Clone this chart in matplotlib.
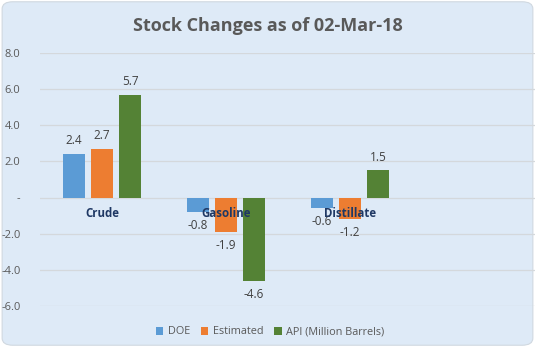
"""Stock changes grouped bar chart (DOE / Estimated / API)."""

import matplotlib

matplotlib.use("Agg")

import matplotlib.pyplot as plt
import numpy as np
from matplotlib.patches import FancyBboxPatch

plt.rcParams["font.family"] = ["Open Sans", "DejaVu Sans"]

categories = ["Crude", "Gasoline", "Distillate", ""]
doe = [2.4, -0.8, -0.6, np.nan]
estimated = [2.7, -1.9, -1.2, np.nan]
api = [5.7, -4.6, 1.5, np.nan]
series_names = ["DOE", "Estimated", "API (Million Barrels)"]
y_ticks = [-6, -4, -2, 0, 2, 4, 6, 8]
y_ticklabels = ["-6.0", "-4.0", "-2.0", "-", "2.0", "4.0", "6.0", "8.0"]

COLORS = ["#5B9BD5", "#ED7D31", "#548235"]
BG = "#DEEAF7"
TEXT = "#595959"

fig = plt.figure(figsize=(5.35, 3.53), dpi=100, facecolor="white")
panel = FancyBboxPatch(
    (0.004, 0.022), 0.992, 0.973,
    boxstyle="round,pad=0,rounding_size=0.02",
    transform=fig.transFigure, facecolor=BG, edgecolor="#D0D8E0",
    linewidth=0.8, zorder=-10,
)
fig.patches.append(panel)

ax = fig.add_axes([40 / 535, 47 / 353, 496 / 535, 253 / 353])
ax.set_facecolor("none")

x = np.arange(len(categories))
width = 0.18
step = 0.226
for i, (vals, name) in enumerate(zip([doe, estimated, api], series_names)):
    pos = x + (i - 1) * step
    ax.bar(pos, vals, width, color=COLORS[i], label=name, zorder=3)
    for p, v in zip(pos, vals):
        if np.isnan(v):
            continue
        off = 5 if v >= 0 else -5
        ax.annotate(f"{v:.1f}", (p, v), xytext=(0, off), textcoords="offset points",
                    ha="center", va="bottom" if v >= 0 else "top",
                    fontsize=8.5, color="#404040")

ax.set_xlim(-0.5, len(categories) - 0.5)
ax.set_ylim(-6, 8)
ax.set_yticks(y_ticks)
ax.set_yticklabels(y_ticklabels, fontsize=8, color=TEXT)
ax.tick_params(axis="y", length=0, pad=14)
ax.set_xticks([])
ax.grid(axis="y", color="#D4D8DC", linewidth=0.9, zorder=0)
for s in ax.spines.values():
    s.set_visible(False)

for xi, cat in zip(x, categories):
    ax.annotate(cat, (xi, 0), xytext=(0, -11.5), textcoords="offset points",
                ha="center", va="center", fontsize=8.3, fontweight="bold",
                color="#1F3864", zorder=5)

fig.text(268 / 535, 1 - 26 / 353, "Stock Changes as of 02-Mar-18",
         ha="center", va="center", fontsize=13, fontweight="bold", color=TEXT)

fig.legend(loc="center", bbox_to_anchor=(270 / 535, 1 - 332 / 353), ncol=3,
           frameon=False, fontsize=7.8, labelcolor=TEXT, handlelength=0.7,
           handleheight=0.7, handletextpad=0.4, columnspacing=1.0)

fig.savefig("out.png", dpi=100, facecolor="white")
